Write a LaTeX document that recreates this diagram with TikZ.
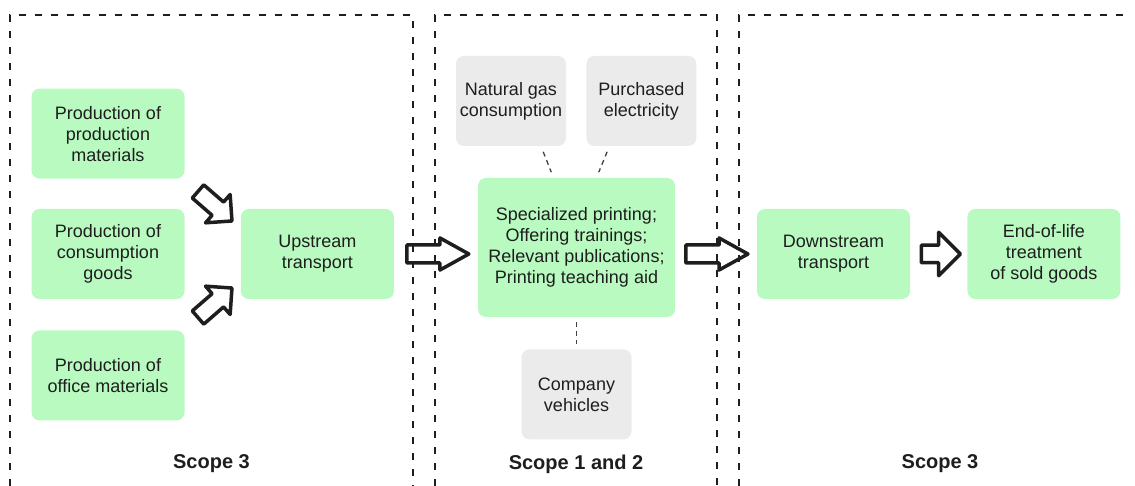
\documentclass[tikz,border=0pt]{standalone}
\usepackage{fontspec}
\setmainfont{Liberation Sans}
\usepackage{xcolor}
\usetikzlibrary{positioning, calc, shapes.arrows}

\definecolor{boxgreen}{HTML}{B8FAC0}
\definecolor{boxgray}{HTML}{EBEBEB}
\definecolor{inkdark}{HTML}{1E1E1E}

\begin{document}
\begin{tikzpicture}[x=1pt, y=-1pt, node distance=30pt,
        every node/.style={font=\fontsize{18}{21}\selectfont, text=inkdark},
        greenbox/.style={rectangle, rounded corners=8pt, fill=boxgreen, minimum width=153pt, minimum height=90pt, align=center, inner sep=2pt},
        graybox/.style={rectangle, rounded corners=8pt, fill=boxgray, minimum width=110pt, minimum height=90pt, align=center, inner sep=2pt},
        scopeline/.style={draw=inkdark, line width=1.5pt, dash pattern=on 7pt off 9pt},
        link/.style={draw=inkdark!85, line width=1.3pt, dash pattern=on 5pt off 4pt, shorten <=6pt, shorten >=6pt},
        fatarrow/.style={single arrow, anchor=tail, draw=inkdark, line width=3.5pt, line join=round, inner xsep=0pt, inner ysep=7.25pt, single arrow head extend=7pt, single arrow tip angle=58, minimum height=62pt},
        slantarrow/.style={fatarrow, inner ysep=7pt, single arrow head extend=10pt, single arrow tip angle=90, minimum height=45pt},
        scopelabel/.style={font=\fontsize{20}{24}\selectfont\bfseries}]
        \useasboundingbox (0,0) rectangle (1135,486);

        % Scopes
        \draw[scopeline] (10,486) -- (10,15) -- (413,15) -- (413,486);
        \draw[scopeline] (435,486) -- (435,15) -- (717,15) -- (717,486);
        \draw[scopeline] (739,486) -- (739,15) -- (1132,15);

        \node[scopelabel] (S3up) at (211.5,464) {Scope 3};
        \node[scopelabel] (S12) at (576,464) {Scope 1 and 2};
        \node[scopelabel] (S3down) at (940,464) {Scope 3};

        % Nodes
        \node[greenbox] (P2) at (108,254) {Production of\\consumption\\goods};
        \node[greenbox, above=30pt of P2] (P1) {Production of\\production\\materials};
        \node[greenbox, below=31pt of P2] (P3) {Production of\\office materials};
        \node[greenbox, right=56pt of P2] (Up) {Upstream\\transport};

        \node[greenbox, minimum width=197pt, minimum height=139pt] (Mid) at (576.5,247.5) {Specialized printing;\\Offering trainings;\\Relevant publications;\\Printing teaching aid};
        \node[graybox] (NG) at (511,101) {Natural gas\\consumption};
        \node[graybox, right=20pt of NG] (PE) {Purchased\\electricity};
        \node[graybox, below=32pt of Mid] (CV) {Company\\vehicles};

        \node[greenbox] (Down) at (833.5,254) {Downstream\\transport};
        \node[greenbox, right=57pt of Down] (EoL) {End-of-life\\treatment\\of sold goods};

        % Arrows
        \node[slantarrow, rotate=-41] (A1) at ($(P1.south east)+(12,11.5)$) {};
        \node[slantarrow, rotate=41] (A3) at ($(P3.north east)+(12,-11.5)$) {};
        \node[fatarrow] (AUp) at ($(Up.east)+(11,0)$) {};
        \node[fatarrow] (AMid) at ($(Mid.east |- Down.west)+(9,0)$) {};
        \node[slantarrow, minimum height=39pt, single arrow head extend=13pt] (ADown) at ($(Down.east)+(9.5,0)$) {};

        \draw[link] ([xshift=30pt]NG.south) -- ([xshift=-23pt]Mid.north);
        \draw[link] ([xshift=-32pt]PE.south) -- ([xshift=20pt]Mid.north);
        \draw[link, shorten <=5pt, shorten >=5pt] (Mid.south) -- (CV.north);
    \end{tikzpicture}
\end{document}
